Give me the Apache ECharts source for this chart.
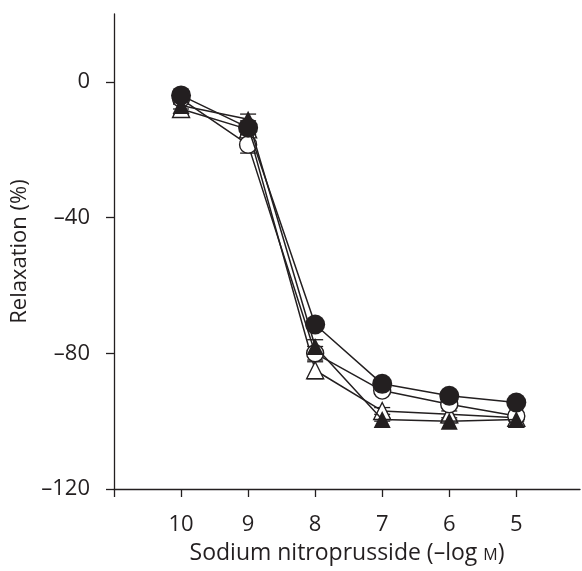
<!DOCTYPE html>
<html><head><meta charset="utf-8">
<script src="https://cdn.jsdelivr.net/npm/echarts@6/dist/echarts.min.js"></script>
<style>html,body{margin:0;padding:0;background:#fff}#c{width:582px;height:571px}</style>
</head><body><div id="c"></div>
<script>
const concentrations = [10, 9, 8, 7, 6, 5];
const xTickValues = [11, 10, 9, 8, 7, 6, 5];
const yTickValues = [-120, -80, -40, 0];
const filledCircle = [-4, -13.5, -71.5, -89, -92.5, -94.5];
const filledCircleErr = [1.5, 2, 1.5, 1, 1, 1];
const openCircle = [-5, -18.5, -80, -91, -95, -98.5];
const openCircleErr = [1.5, 2.5, 2, 1, 1, 1];
const filledTriangle = [-7, -11, -78, -99.5, -100, -99.5];
const filledTriangleErr = [1, 1.5, 2, 0.5, 0.5, 0.5];
const openTriangle = [-8, -14, -85, -97, -98, -99];
const openTriangleErr = [1.5, 1.5, 2.5, 1, 1, 0.5];

const INK = '#231f20';
const FONT = 'Open Sans';

function pairs(vals) { return concentrations.map((c, i) => [c, vals[i]]); }
function errData(vals, errs) { return concentrations.map((c, i) => [c, vals[i] - errs[i], vals[i] + errs[i]]); }

function errSeries(vals, errs, z) {
  return {
    type: 'custom', z: z, silent: true,
    data: errData(vals, errs),
    renderItem: function (params, api) {
      const x = api.value(0);
      const lo = api.coord([x, api.value(1)]);
      const hi = api.coord([x, api.value(2)]);
      const w = 8;
      const st = { stroke: INK, lineWidth: 1.3 };
      return { type: 'group', children: [
        { type: 'line', shape: { x1: lo[0], y1: lo[1], x2: hi[0], y2: hi[1] }, style: st },
        { type: 'line', shape: { x1: lo[0] - w, y1: lo[1], x2: lo[0] + w, y2: lo[1] }, style: st },
        { type: 'line', shape: { x1: hi[0] - w, y1: hi[1], x2: hi[0] + w, y2: hi[1] }, style: st }
      ]};
    }
  };
}

function lineSeries(vals, symbol, size, filled, z) {
  return {
    type: 'line', z: z, data: pairs(vals), symbol: symbol, symbolSize: size,
    showAllSymbol: true,
    lineStyle: { color: INK, width: 1.5 },
    itemStyle: { color: filled ? INK : '#fff', borderColor: INK, borderWidth: filled ? 0 : 1.4 },
    emphasis: { disabled: true }, animation: false
  };
}

const chart = echarts.init(document.getElementById('c'));
chart.setOption({
  animation: false,
  grid: { left: 114, top: 14, right: 2, bottom: 82 },
  xAxis: {
    type: 'value', inverse: true, min: 4.05, max: 11,
    axisLine: { show: true, onZero: false, lineStyle: { color: INK, width: 1.3 } },
    axisTick: { show: true, length: 8, customValues: xTickValues, lineStyle: { color: INK, width: 1.3 } },
    axisLabel: { customValues: concentrations, color: INK, fontSize: 22, fontFamily: FONT, margin: 25 },
    splitLine: { show: false },
    name: '{a|Sodium nitroprusside (–log }{b|M}{a|)}',
    nameLocation: 'middle', nameGap: 53,
    nameTextStyle: { rich: {
      a: { fontSize: 23, fontFamily: FONT, color: INK, letterSpacing: 0.6, verticalAlign: 'bottom' },
      b: { fontSize: 16, fontFamily: FONT, color: INK, verticalAlign: 'bottom', padding: [0, 0, 2, 0] } } }
  },
  yAxis: {
    type: 'value', min: -120, max: 20,
    axisLine: { show: true, onZero: false, lineStyle: { color: INK, width: 1.3 } },
    axisTick: { show: true, length: 8, customValues: yTickValues, lineStyle: { color: INK, width: 1.3 } },
    axisLabel: { customValues: yTickValues, color: INK, fontSize: 22, fontFamily: FONT, margin: 24,
      formatter: v => String(v).replace('-', '–') },
    splitLine: { show: false },
    name: 'Relaxation (%)', nameLocation: 'middle', nameGap: 78, nameRotate: 90,
    nameTextStyle: { fontSize: 22, fontFamily: FONT, color: INK }
  },
  series: [
    errSeries(openTriangle, openTriangleErr, 1),
    errSeries(openCircle, openCircleErr, 1),
    errSeries(filledTriangle, filledTriangleErr, 1),
    errSeries(filledCircle, filledCircleErr, 1),
    lineSeries(openTriangle, 'triangle', 17, false, 2),
    lineSeries(openCircle, 'circle', 17, false, 3),
    lineSeries(filledTriangle, 'triangle', 17, true, 4),
    lineSeries(filledCircle, 'circle', 20, true, 5)
  ]
});
</script></body></html>
